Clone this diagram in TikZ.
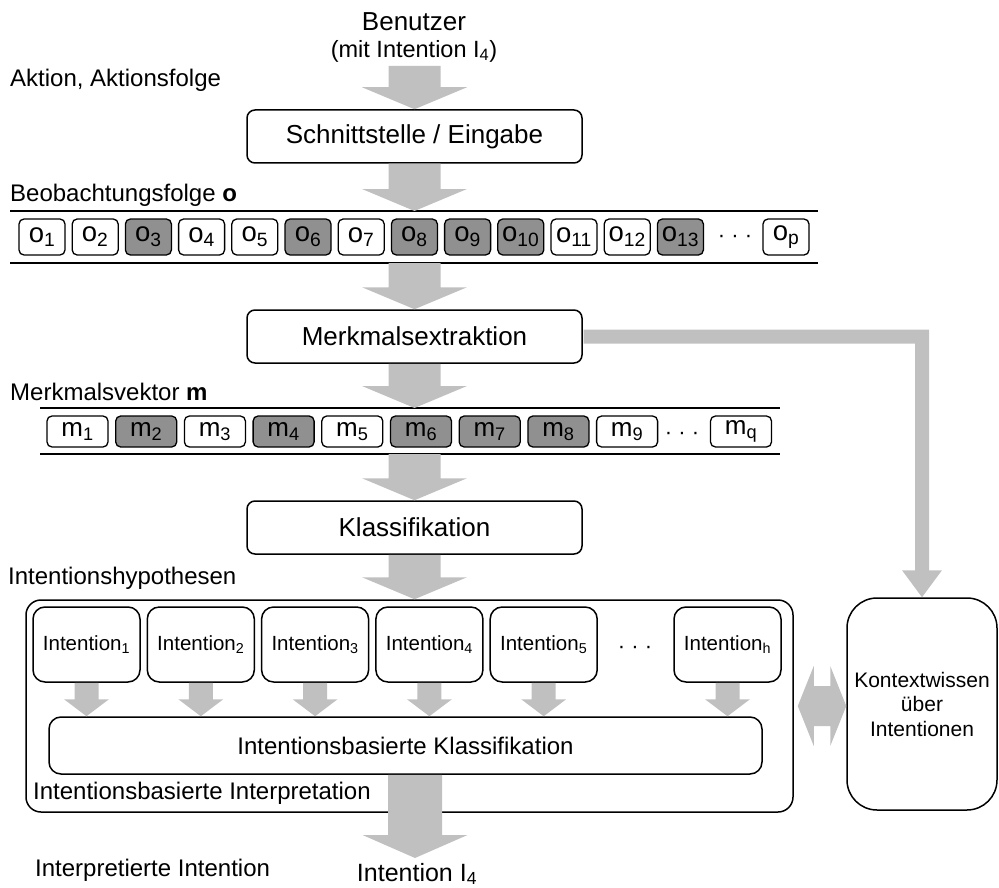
\documentclass[tikz,border=0pt]{standalone}
\usepackage{fontspec}
\setmainfont{Liberation Sans}
\usetikzlibrary{calc}
\definecolor{arrowgray}{RGB}{192,192,192}
\definecolor{cellgray}{RGB}{144,144,144}

% broad grey arrow pointing down from #1 to the level of #2
% #3 half shaft width, #4 half head width, #5 head length
\newcommand\fatdown[5]{%
  \fill[arrowgray] let \p1=(#1), \p2=(#2) in
    (\x1-#3,\y1) -- (\x1-#3,\y2+#5) -- (\x1-#4,\y2+#5) -- (\x1,\y2)
    -- (\x1+#4,\y2+#5) -- (\x1+#3,\y2+#5) -- (\x1+#3,\y1) -- cycle;}

\begin{document}
\begin{tikzpicture}[x=1pt,y=-1pt,
  stagebox/.style={draw, rounded corners=8pt, line width=1.5pt, fill=white,
    minimum width=335pt, minimum height=53pt, inner sep=0pt,
    font=\fontsize{26}{30}\selectfont},
  cell/.style={draw, rounded corners=5pt, line width=1.3pt, fill=white,
    minimum width=46pt, minimum height=36pt, inner sep=0pt,
    font=\fontsize{27.5}{30}\selectfont},
  cellhi/.style={cell, fill=cellgray},
  mcell/.style={cell, minimum width=61pt, minimum height=31pt,
    font=\fontsize{26}{30}\selectfont},
  mcellhi/.style={mcell, fill=cellgray},
  intbox/.style={draw, rounded corners=12pt, line width=1.5pt, fill=white,
    minimum width=107pt, minimum height=75pt, inner sep=0pt,
    font=\fontsize{20.5}{24}\selectfont},
  label/.style={anchor=west, inner sep=0pt, font=\fontsize{24}{28}\selectfont},
  dots/.style={inner sep=0pt, font=\fontsize{22}{26}\selectfont},
  rule/.style={line width=2pt}]
\useasboundingbox (0,0) rectangle (999,888);

% user at the top
\node[inner sep=0pt, font=\fontsize{26}{30}\selectfont] (usr) at (414,22) {Benutzer};
\node[inner sep=0pt, font=\fontsize{23.5}{27}\selectfont] (usrint) at (414,51) {(mit Intention I\textsubscript{4})};
\coordinate (a0) at (414.5,66);
\node[label] (lakt) at (10,80) {Aktion, Aktionsfolge};

% processing stages
\node[stagebox] (s1) at (414.5,136.5) {Schnittstelle / Eingabe};
\node[stagebox] (merk) at (414.5,336.5) {Merkmalsextraktion};
\node[stagebox] (kl) at (414.5,527.5) {Klassifikation};

% observation sequence
\node[label] (lobs) at (10,195) {Beobachtungsfolge \textbf{o}};
\coordinate (otopL) at (10,211);  \coordinate (otopR) at (818,211);
\coordinate (obotL) at (10,263);  \coordinate (obotR) at (818,263);
\draw[rule] (otopL) -- (otopR);
\draw[rule] (obotL) -- (obotR);
\foreach \k/\st in {1/cell,2/cell,3/cellhi,4/cell,5/cell,6/cellhi,7/cell,
                    8/cellhi,9/cellhi,10/cellhi,11/cell,12/cell,13/cellhi}
  \node[\st] (o\k) at ({42+(\k-1)*53.2},237) {o\textsubscript{\k}};
\node[dots] (odots) at (735,239) {· · ·};
\node[cell] (op) at (786,237) {o\textsubscript{p}};

% feature vector
\node[label] (lmv) at (10,392) {Merkmalsvektor \textbf{m}};
\coordinate (mtopL) at (40,408);  \coordinate (mtopR) at (780,408);
\coordinate (mbotL) at (40,454);  \coordinate (mbotR) at (780,454);
\draw[rule] (mtopL) -- (mtopR);
\draw[rule] (mbotL) -- (mbotR);
\foreach \k/\st in {1/mcell,2/mcellhi,3/mcell,4/mcellhi,5/mcell,6/mcellhi,
                    7/mcellhi,8/mcellhi,9/mcell}
  \node[\st] (m\k) at ({77.5+(\k-1)*68.7},431.5) {m\textsubscript{\k}};
\node[dots] (mdots) at (682,436) {· · ·};
\node[mcell] (mq) at (741,431.5) {m\textsubscript{q}};

% intention hypotheses
\node[label] (lhyp) at (8,578) {Intentionshypothesen};
\node[draw, rounded corners=15pt, line width=1.5pt, minimum width=767pt,
  minimum height=212pt] (outer) at (409.5,706) {};
\foreach \k in {1,...,5}
  \node[intbox] (i\k) at ({86.5+(\k-1)*114.3},644.5) {Intention\textsubscript{\k}};
\node[dots] (idots) at (635,650) {· · ·};
\node[intbox] (ih) at (727.5,644.5) {Intention\textsubscript{h}};
\node[draw, rounded corners=12pt, line width=1.5pt, fill=white,
  minimum width=713pt, minimum height=57pt, inner sep=0pt,
  font=\fontsize{24}{28}\selectfont] (ikl) at (405.5,745.5)
  {Intentionsbasierte Klassifikation};
\node[label] (lint) at (33,793)
  {Intentionsbasierte Interpretation};

% context knowledge
\node[draw, rounded corners=30pt, line width=1.5pt, minimum width=150pt,
  minimum height=212pt, inner sep=0pt, align=center,
  font=\fontsize{21}{24.5}\selectfont] (ctx) at (922,704)
  {Kontextwissen\\über\\Intentionen};

% result
\coordinate (res) at (415,858);
\node[label] (lres) at (35,870) {Interpretierte Intention};
\node[inner sep=0pt, font=\fontsize{25}{29}\selectfont] (outint) at (417,874)
  {Intention I\textsubscript{4}};

% main flow arrows
\fatdown{a0}{s1.north}{26pt}{52.5pt}{22pt}
\fatdown{s1.south}{s1.south |- otopL}{26pt}{52.5pt}{22pt}
\fatdown{s1.south |- obotL}{merk.north}{26pt}{52.5pt}{22pt}
\fatdown{merk.south}{merk.south |- mtopL}{26pt}{52.5pt}{22pt}
\fatdown{merk.south |- mbotL}{kl.north}{26pt}{52.5pt}{22pt}
\fatdown{kl.south}{kl.south |- outer.north}{26pt}{52.5pt}{22pt}
\foreach \ib in {i1,i2,i3,i4,i5,ih}{
  \fatdown{\ib.south}{\ib.south |- ikl.north}{12pt}{22.5pt}{17pt}
}
\fatdown{ikl.south -| res}{res}{27pt}{52.5pt}{23pt}

% features passed on to the context knowledge
\fill[arrowgray] let \p1=(merk.east), \p2=(ctx.north) in
  (\x1+0.75pt,\y1+7pt) -- (\x2+7pt,\y1+7pt) -- (\x2+7pt,\y2+27pt)
  -- (\x2+20pt,\y2+27pt) -- (\x2,\y2) -- (\x2-20pt,\y2+27pt)
  -- (\x2-7pt,\y2+27pt) -- (\x2-7pt,\y1-7pt) -- (\x1+0.75pt,\y1-7pt) -- cycle;

% exchange between interpretation and context knowledge
\fill[arrowgray] let \p1=(outer.east), \p2=(ctx.west) in
  (\x1+4pt,\y1) -- (\x1+20pt,\y1+40pt) -- (\x1+20pt,\y1+20pt)
  -- (\x2-16pt,\y1+20pt) -- (\x2-16pt,\y1+40pt) -- (\x2,\y1)
  -- (\x2-16pt,\y1-40pt) -- (\x2-16pt,\y1-20pt) -- (\x1+20pt,\y1-20pt)
  -- (\x1+20pt,\y1-40pt) -- cycle;
\end{tikzpicture}
\end{document}
